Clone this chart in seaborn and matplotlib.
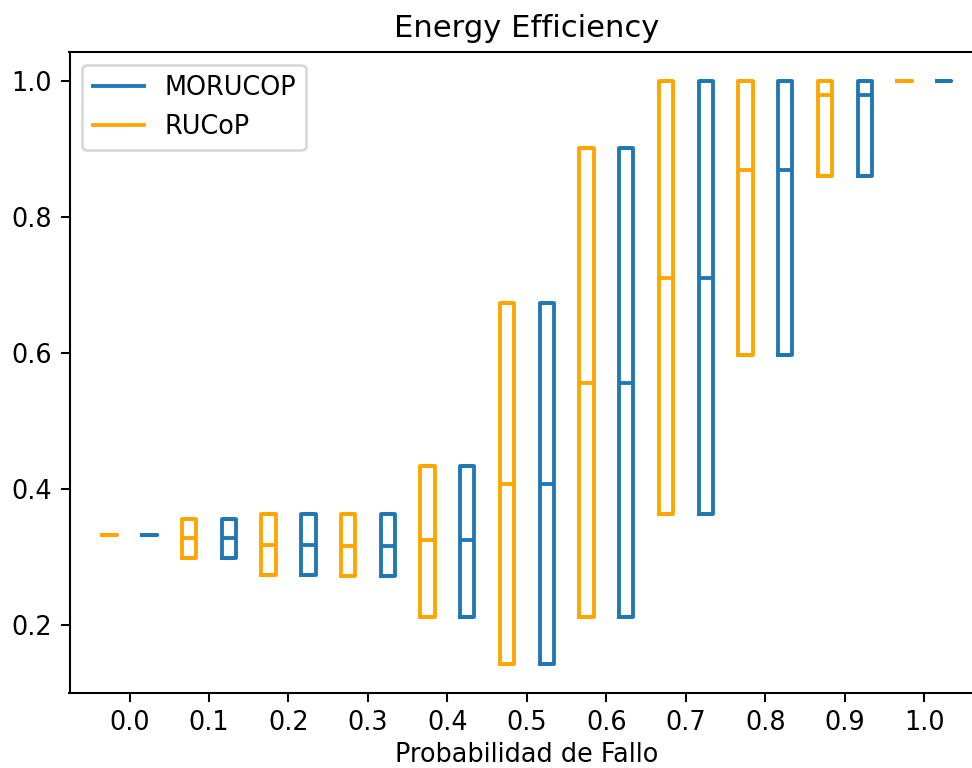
import matplotlib
matplotlib.use("Agg")
import matplotlib.pyplot as plt
from matplotlib.lines import Line2D
import seaborn as sns
import pandas as pd

# Categories (failure probability)
probs = ["0.0", "0.1", "0.2", "0.3", "0.4", "0.5", "0.6", "0.7", "0.8", "0.9", "1.0"]

# RUCoP box statistics (min/q1, median, max/q3)
rucop_low = [0.333, 0.299, 0.274, 0.272, 0.213, 0.143, 0.213, 0.364, 0.597, 0.860, 1.0]
rucop_med = [0.333, 0.328, 0.318, 0.317, 0.325, 0.408, 0.557, 0.710, 0.869, 0.979, 1.0]
rucop_high = [0.333, 0.356, 0.364, 0.363, 0.435, 0.674, 0.902, 1.0, 1.0, 1.0, 1.0]

# MORUCOP box statistics
morucop_low = [0.333, 0.299, 0.274, 0.272, 0.213, 0.143, 0.213, 0.364, 0.597, 0.860, 1.0]
morucop_med = [0.333, 0.328, 0.318, 0.317, 0.325, 0.408, 0.557, 0.710, 0.869, 0.979, 1.0]
morucop_high = [0.333, 0.356, 0.364, 0.363, 0.435, 0.674, 0.902, 1.0, 1.0, 1.0, 1.0]

series = {
    "RUCoP": (rucop_low, rucop_med, rucop_high),
    "MORUCOP": (morucop_low, morucop_med, morucop_high),
}

rows = []
for name, (lo, me, hi) in series.items():
    for p, a, m, b in zip(probs, lo, me, hi):
        for v in (a, a, m, b, b):
            rows.append({"prob": p, "value": v, "method": name})
df = pd.DataFrame(rows)

palette = {"RUCoP": "#ffa500", "MORUCOP": "#1f77b4"}

dpi = 184
fig = plt.figure(figsize=(972 / dpi, 768 / dpi), dpi=dpi)
ax = fig.add_axes([69.5 / 972, (768 - 693.3) / 768, (984 - 69.5) / 972, (693.3 - 52) / 768])

sns.boxplot(data=df, x="prob", y="value", hue="method",
            hue_order=["RUCoP", "MORUCOP"], order=probs,
            palette=palette, fill=False, width=1.0, gap=0.64,
            linewidth=1.5, whis=1.5, showfliers=False, legend=False, ax=ax)

ax.set_xlim(-0.755, 10.75)
ax.set_xlabel("Probabilidad de Fallo", labelpad=2.5)
ax.set_ylabel("")
ax.set_title("Energy Efficiency", fontsize=12)
ax.set_yticks([0.2, 0.4, 0.6, 0.8, 1.0])
ax.tick_params(axis="x", pad=3.0)

handles = [Line2D([0], [0], color=palette["MORUCOP"], lw=1.5),
           Line2D([0], [0], color=palette["RUCoP"], lw=1.5)]
ax.legend(handles, ["MORUCOP", "RUCoP"], loc="upper left")

fig.savefig("out.png", dpi=dpi)
